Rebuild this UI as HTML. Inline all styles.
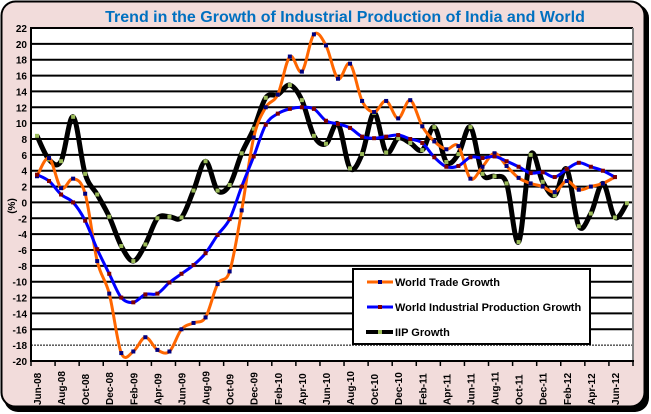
<!DOCTYPE html>
<html><head><meta charset="utf-8"><style>
html,body{margin:0;padding:0;background:#fff;}
svg{display:block;}
text{font-family:"Liberation Sans",Arial,sans-serif;font-weight:bold;}
</style></head><body>
<svg id="s" width="651" height="414" viewBox="0 0 651 414" xmlns="http://www.w3.org/2000/svg">
<rect x="4" y="4" width="645" height="408" rx="14" fill="#000"/>
<rect x="1.5" y="1.5" width="643" height="405" rx="14" fill="#f2dcdb" stroke="#000" stroke-width="2"/>
<text x="345" y="22" font-size="16" fill="#0070c0" text-anchor="middle">Trend in the Growth of Industrial Production of India and World</text>
<rect x="31" y="28" width="602" height="333" fill="#fff"/>
<g id="grid"></g>
<line x1="633" y1="28" x2="633" y2="361" stroke="#808080" stroke-width="2"/>
<line x1="31" y1="27" x2="31" y2="362" stroke="#000" stroke-width="2"/>
<line x1="30" y1="361" x2="634" y2="361" stroke="#000" stroke-width="2"/>
<g id="ylab" font-size="10" text-anchor="end"></g>
<text transform="translate(15,206) rotate(-90)" font-size="10" text-anchor="middle">(%)</text>
<g id="xlab" font-size="10"></g>
<g id="series"></g>
<rect x="353" y="269" width="237" height="75" fill="#fff" stroke="#000" stroke-width="2"/>
<line x1="367" y1="282" x2="393" y2="282" stroke="#ff6600" stroke-width="3"/><rect x="378" y="280" width="4" height="4" fill="#000080"/>
<line x1="367" y1="307" x2="393" y2="307" stroke="#0000ff" stroke-width="3"/><rect x="378" y="305" width="4" height="4" fill="#800000"/>
<line x1="366" y1="332" x2="393" y2="332" stroke="#000" stroke-width="4"/><rect x="378" y="330" width="4" height="4" fill="#9bbb59"/>
<text x="395" y="286" font-size="11">World Trade Growth</text>
<text x="395" y="311" font-size="11">World Industrial Production Growth</text>
<text x="395" y="336" font-size="11">IIP Growth</text>
</svg>
<script>
var NS="http://www.w3.org/2000/svg";
function el(t,a,p){var e=document.createElementNS(NS,t);for(var k in a)e.setAttribute(k,a[k]);p.appendChild(e);return e;}
function Y(v){return 28+(22-v)*333/42;}
function X(i){return 37+12.04*i;}
var g=document.getElementById('grid'),yl=document.getElementById('ylab'),xl=document.getElementById('xlab'),sr=document.getElementById('series');
for(var v=22;v>=-20;v-=2){var y=Y(v);
 if(v>-20){var a={x1:31,x2:633,y1:y,y2:y,stroke:'#000','stroke-width':2};if(v==-18){a['stroke-width']=1;a['stroke-dasharray']='2,1';}el('line',a,g);}
 var t=el('text',{x:27,y:y+4},yl);t.textContent=v;}
var m=['Jun','Jul','Aug','Sep','Oct','Nov','Dec','Jan','Feb','Mar','Apr','May'];
for(var i=0;i<=50;i+=2){var x=31+12.04*i;el('line',{x1:x,x2:x,y1:361,y2:366,stroke:'#000','stroke-width':1.5},g);
 if(i<50){var mi=i%12,yr=8+Math.floor((i+5)/12);var t=el('text',{transform:'translate('+(x+10)+',405) rotate(-90)'},xl);t.textContent=m[mi]+'-'+(yr<10?'0'+yr:yr);}}
var wt=[3.3,5.6,1.8,3.0,1.1,-7.4,-11.5,-19,-18.8,-17,-18.6,-18.8,-16,-15.2,-14.5,-10.3,-8.7,-1,8.2,12,13.6,18.4,16.5,21.2,19.8,15.6,17.5,12.8,11.4,12.8,10.6,12.9,9.6,7.7,6.7,7.1,3.0,4.5,6.2,4.6,3.1,2.4,2.0,1.3,2.7,1.6,2.0,2.4,3.2];
var wp=[3.5,2.7,1.0,0,-2.3,-5.9,-9,-12,-12.6,-11.6,-11.5,-10.1,-9,-7.9,-6.4,-4.1,-2.1,2.0,5.8,9.8,11.2,11.8,12.0,11.8,10.3,9.9,9.4,8.3,8.1,8.3,8.5,8.0,7.5,5.7,4.5,4.6,5.7,5.6,5.8,5.2,4.5,3.7,3.8,3.2,4.2,5.0,4.5,4.0,3.2];
var ip=[8.4,5.4,5.2,10.8,3.6,1.0,-1.8,-5.5,-7.4,-5.3,-2,-1.8,-1.9,1.5,5.2,1.5,2.2,6.2,9.3,13.2,13.6,14.8,12.9,8.4,7.4,9.9,4.3,6.1,11.3,6.3,8.1,7.5,6.6,9.5,5.1,6.1,9.5,3.6,3.3,2.4,-5.0,6.0,2.6,0.9,4.2,-3.0,-1.4,2.4,-1.9,-0.1];
function path(d){var p=d.map(function(v,i){return[X(i),Y(v)];});var s='M'+p[0][0]+','+p[0][1];
 for(var i=0;i<p.length-1;i++){var p0=p[i-1]||p[i],p1=p[i],p2=p[i+1],p3=p[i+2]||p2;
  s+=' C'+(p1[0]+(p2[0]-p0[0])/6)+','+(p1[1]+(p2[1]-p0[1])/6)+' '+(p2[0]-(p3[0]-p1[0])/6)+','+(p2[1]-(p3[1]-p1[1])/6)+' '+p2[0]+','+p2[1];}
 return s;}
function draw(d,c,w,mc){el('path',{d:path(d),fill:'none',stroke:c,'stroke-width':w,'stroke-linejoin':'round'},sr);
 d.forEach(function(v,i){el('rect',{x:X(i)-2,y:Y(v)-2,width:4,height:4,fill:mc},sr);});}
draw(ip,'#000',5,'#9bbb59');
draw(wt,'#ff6600',3,'#000080');
draw(wp,'#0000ff',3,'#800000');
</script>
</body></html>
